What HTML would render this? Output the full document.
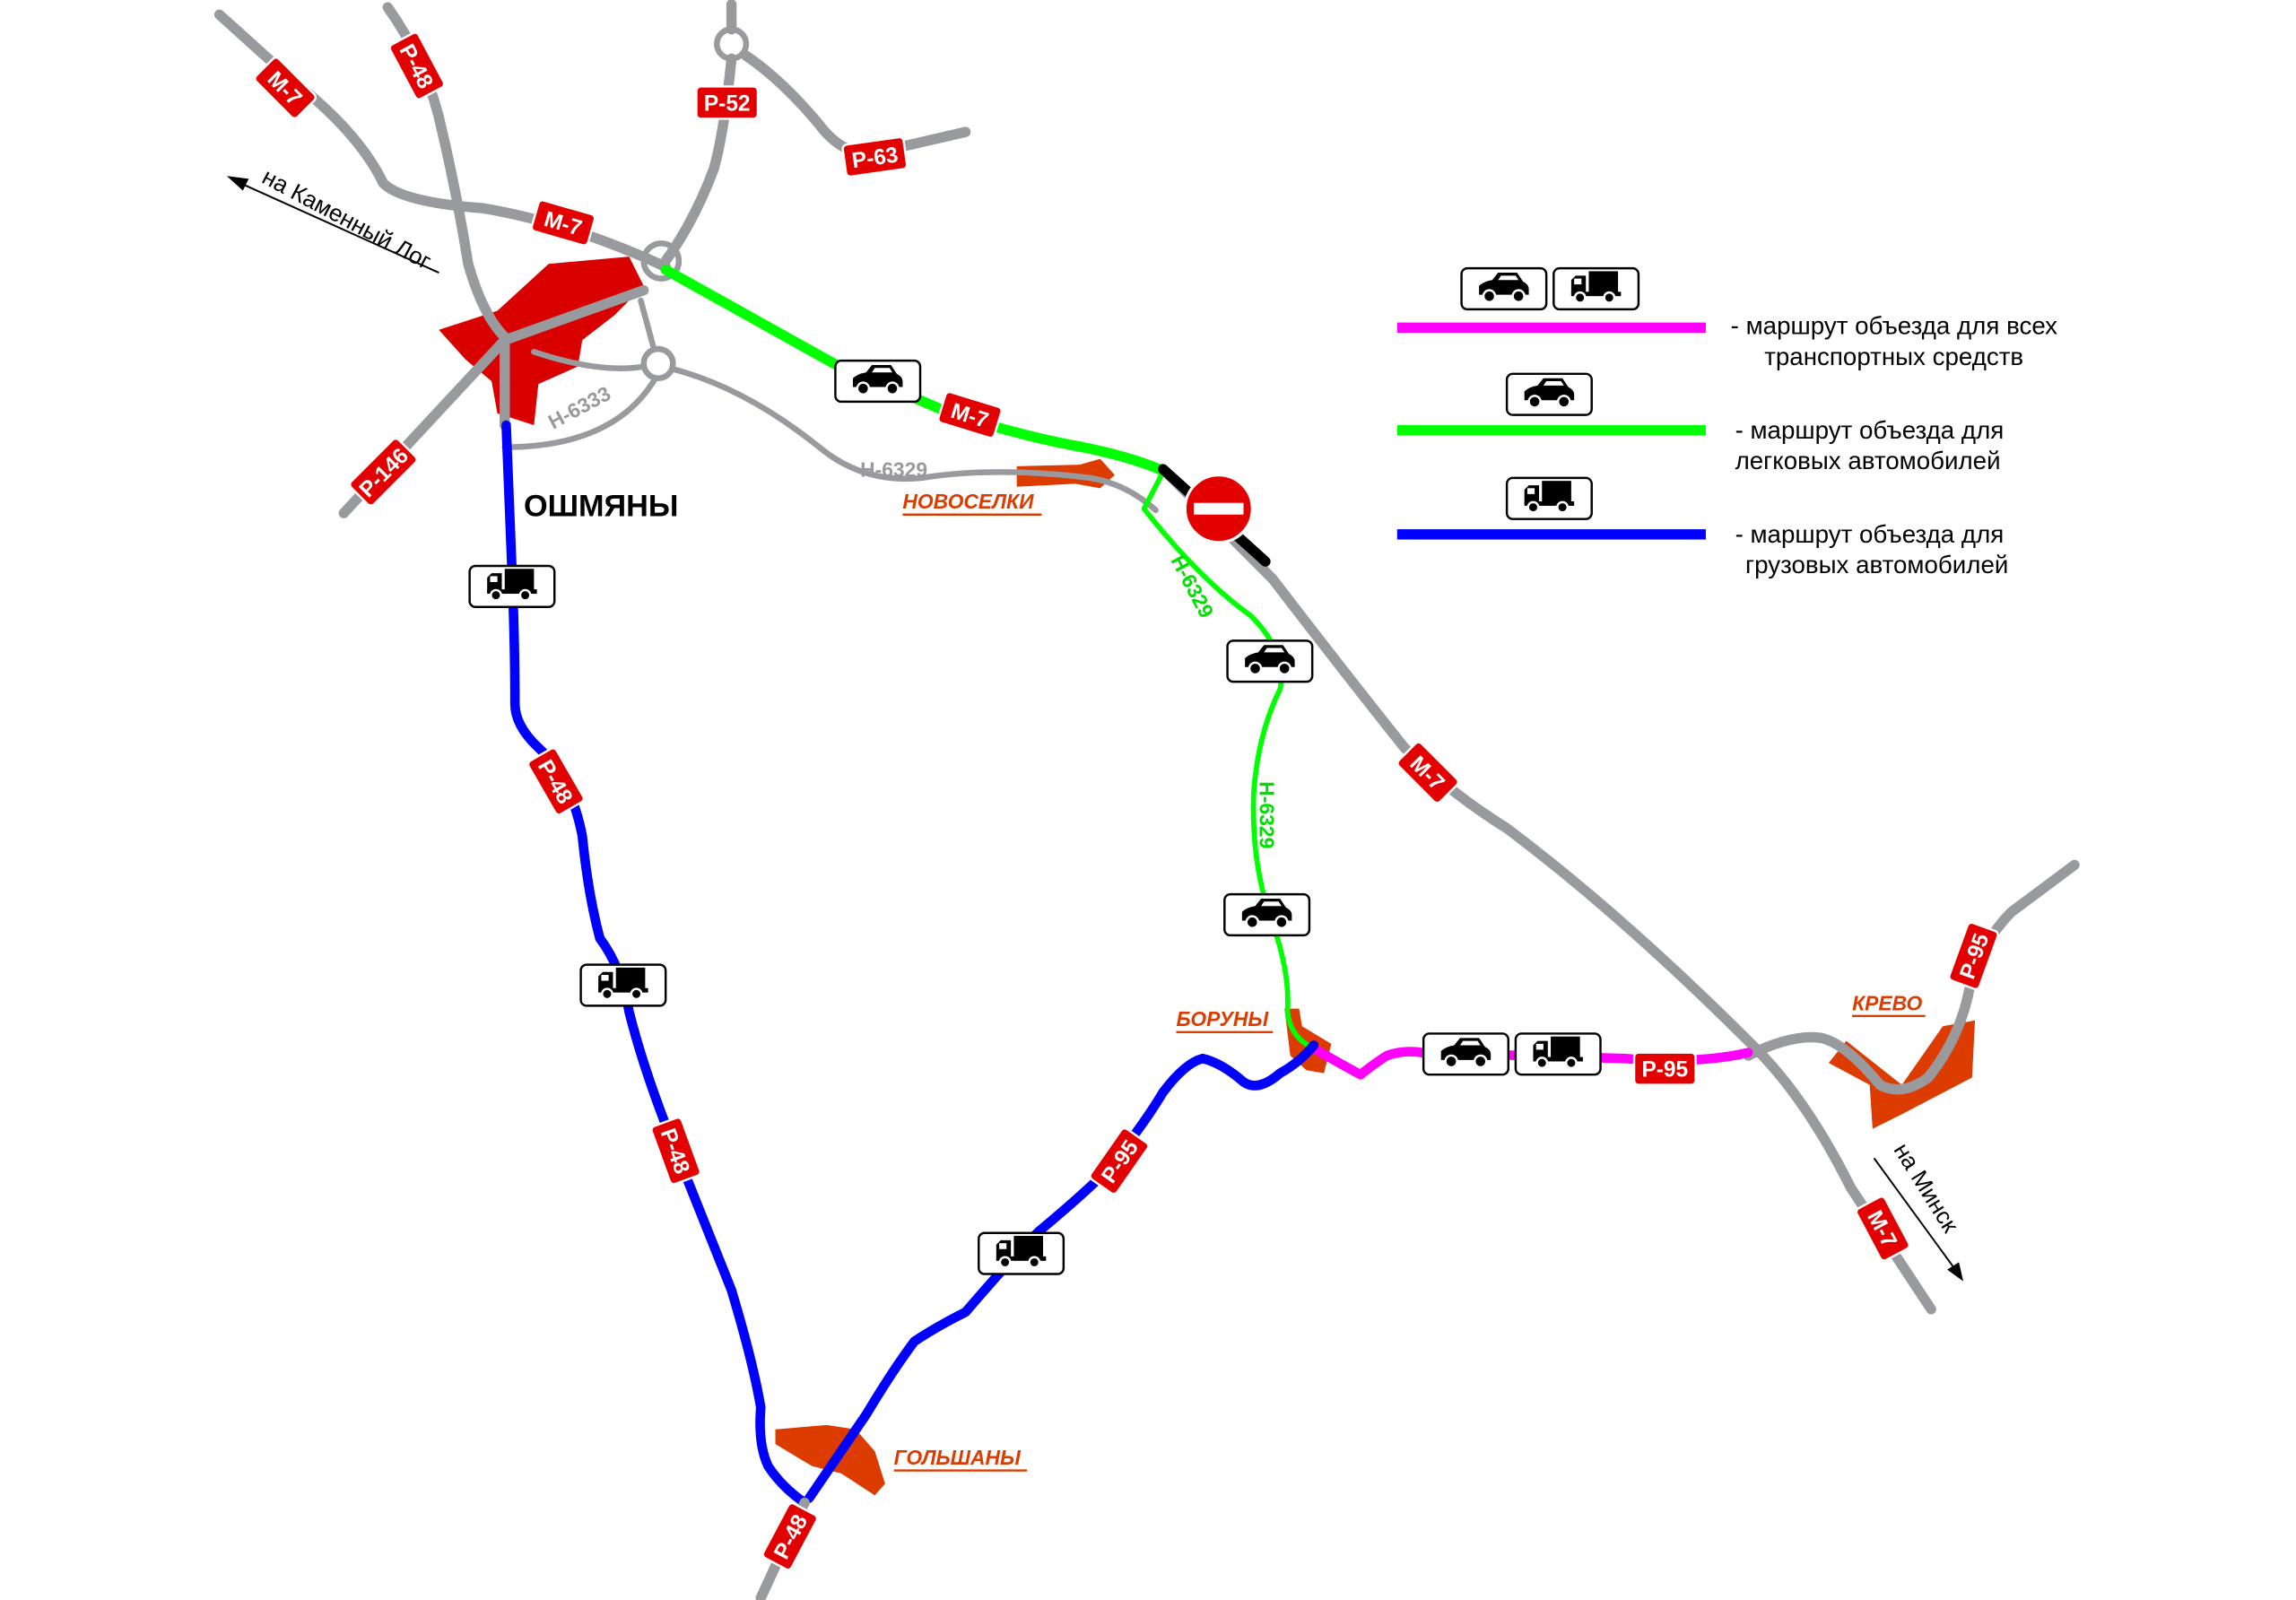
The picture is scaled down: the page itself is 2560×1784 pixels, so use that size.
<!DOCTYPE html>
<html><head><meta charset="utf-8"><style>
html,body{margin:0;padding:0;background:#fff;}
svg{display:block;}
text{font-family:"Liberation Sans",sans-serif;}
</style></head><body>
<svg width="2560" height="1784" viewBox="0 0 1560 1087" preserveAspectRatio="none" xmlns="http://www.w3.org/2000/svg">
<defs>
<g id="car"><path d="M-17,4 L-17,-2 Q-14,-5 -8,-6 L-4,-11 L9,-11 L13,-5 Q17,-3 17,0 L17,4 Z" fill="#000"/><circle cx="-10" cy="5" r="4" fill="#000" stroke="#fff" stroke-width="1.5"/><circle cx="10" cy="5" r="4" fill="#000" stroke="#fff" stroke-width="1.5"/><path d="M-2,-9 L8,-9 L10,-6 L-4,-6Z" fill="#fff"/></g>
<g id="truck"><rect x="-5" y="-12" width="20" height="15" fill="#000"/><path d="M-17,4 L-17,-6 L-14,-9 L-7,-9 L-7,4Z" fill="#000"/><rect x="-15" y="-7" width="5" height="4" fill="#fff"/><rect x="-17" y="2" width="34" height="3" fill="#000"/><circle cx="-11" cy="6" r="3.5" fill="#000" stroke="#fff" stroke-width="1.5"/><circle cx="9" cy="6" r="3.5" fill="#000" stroke="#fff" stroke-width="1.5"/></g>
<g id="pcar"><rect x="-29" y="-14" width="58" height="28" rx="4" fill="#fff" stroke="#000" stroke-width="1.5"/><use href="#car"/></g>
<g id="ptruck"><rect x="-29" y="-14" width="58" height="28" rx="4" fill="#fff" stroke="#000" stroke-width="1.5"/><use href="#truck"/></g>
</defs>
<g transform="scale(0.994,0.996)">
<!-- settlements -->
<polygon points="300,225 340,212 375,180 430,175 440,195 420,215 398,232 395,250 368,262 365,290 340,282 336,260 318,245" fill="#d90000"/>
<polygon points="695,318 738,317 752,313 762,324 752,333 735,330 695,332" fill="#dc3c00"/>
<polygon points="878,688 888,688 890,700 910,712 905,732 893,730 882,720" fill="#dc3c00"/>
<polygon points="530,975 565,972 585,975 598,990 605,1012 598,1020 575,1005 555,1000 530,985" fill="#dc3c00"/>
<polygon points="1262,710 1300,740 1328,700 1350,696 1348,735 1300,760 1280,770 1278,740 1250,725" fill="#dc3c00"/>

<g fill="none" stroke-linecap="round" stroke-linejoin="round">
<g stroke="#999a9e" stroke-width="7">
<path d="M150,10 L200,55 Q245,90 262,125 Q275,138 330,142 Q390,152 455,182"/>
<path d="M265,5 Q290,40 300,80 Q312,130 320,180 Q330,215 345,230"/>
<path d="M500,40 Q495,90 488,115 Q475,150 455,178"/>
<path d="M510,38 Q535,55 560,85 Q575,105 595,105 L660,90"/>
<path d="M500,20 L500,3"/>
<path d="M345,232 L345,290"/>
<path d="M345,232 L235,350"/>
<path d="M345,232 L440,198"/>
<path d="M795,320 L870,395 Q920,460 960,510 Q990,540 1030,565 Q1110,625 1200,715 Q1235,750 1265,810 L1320,893"/>
<path d="M1195,720 Q1225,705 1245,708 Q1262,712 1285,740 Q1300,748 1318,735 Q1338,710 1345,680 Q1352,645 1375,622 L1418,590"/>
</g>
<g stroke="#999a9e" stroke-width="4">
<path d="M365,240 Q410,255 440,250"/>
<path d="M438,205 L447,238"/>
<path d="M461,252 Q510,265 560,305 Q590,330 630,326 Q680,318 745,326 Q770,330 790,348"/>
<path d="M448,258 Q420,305 345,305"/>
<circle cx="452" cy="178" r="12"/>
<circle cx="450" cy="248" r="10"/>
<circle cx="500" cy="30" r="10"/>
</g>
<path d="M455,184 L570,248 L650,282 Q700,298 740,305 Q775,312 797,322" stroke="#00ff00" stroke-width="7"/>
<path d="M795,322 L782,347 Q820,395 855,420 Q880,445 875,470 Q860,500 857,540 Q855,590 870,630 Q882,665 880,690 Q882,708 898,715" stroke="#00ff00" stroke-width="3.5"/>
<path d="M795,320 L865,383" stroke="#000" stroke-width="7"/>
<path d="M898,715 Q915,725 930,733 Q940,725 948,720 Q960,716 972,718 L1110,722 Q1160,726 1195,718" stroke="#ff00ff" stroke-width="6.5"/>
<path d="M346,290 L350,390 Q352,440 352,480 Q352,495 368,510 Q390,530 398,570 Q402,610 410,640 Q425,660 430,690 Q440,730 460,780 Q480,830 500,880 Q515,930 520,960 Q518,985 525,1000 Q535,1015 550,1025" stroke="#0000ff" stroke-width="6.5"/>
<path d="M553,1022 Q575,990 592,965 Q610,935 625,915 Q640,905 660,895 Q690,860 710,840 Q740,815 755,800 Q780,770 795,745 Q810,725 822,722 Q835,725 850,738 Q860,745 875,732 Q888,725 898,713" stroke="#0000ff" stroke-width="6.5"/>
<path d="M550,1025 L520,1090" stroke="#999a9e" stroke-width="7"/>
</g>

<circle cx="833" cy="347" r="23" fill="#e30000" stroke="#fff" stroke-width="2"/>
<rect x="816" y="343" width="34" height="8" fill="#fff"/>

<use href="#pcar" x="600" y="260"/>
<use href="#ptruck" x="350" y="400"/>
<use href="#ptruck" x="426" y="672"/>
<use href="#pcar" x="868" y="451"/>
<use href="#pcar" x="866" y="624"/>
<use href="#ptruck" x="698" y="855"/>
<use href="#pcar" x="1002" y="719"/>
<use href="#ptruck" x="1065" y="719"/>
<use href="#pcar" x="1028" y="197"/>
<use href="#ptruck" x="1091" y="197"/>
<use href="#pcar" x="1059" y="269"/>
<use href="#ptruck" x="1059" y="340"/>

<g font-weight="bold" font-size="15" fill="#fff" text-anchor="middle">
<g transform="translate(195,60) rotate(45)"><rect x="-20" y="-11" width="40" height="22" rx="3" fill="#e30000" stroke="#fff" stroke-width="1.5"/><text y="5.5">М-7</text></g>
<g transform="translate(285,45) rotate(62)"><rect x="-21" y="-11" width="42" height="22" rx="3" fill="#e30000" stroke="#fff" stroke-width="1.5"/><text y="5.5">Р-48</text></g>
<g transform="translate(497,70)"><rect x="-21" y="-11" width="42" height="22" rx="3" fill="#e30000" stroke="#fff" stroke-width="1.5"/><text y="5.5">Р-52</text></g>
<g transform="translate(598,107) rotate(-8)"><rect x="-21" y="-11" width="42" height="22" rx="3" fill="#e30000" stroke="#fff" stroke-width="1.5"/><text y="5.5">Р-63</text></g>
<g transform="translate(385,152) rotate(16)"><rect x="-20" y="-11" width="40" height="22" rx="3" fill="#e30000" stroke="#fff" stroke-width="1.5"/><text y="5.5">М-7</text></g>
<g transform="translate(663,283) rotate(17)"><rect x="-20" y="-11" width="40" height="22" rx="3" fill="#e30000" stroke="#fff" stroke-width="1.5"/><text y="5.5">М-7</text></g>
<g transform="translate(262,322) rotate(-45)"><rect x="-23" y="-11" width="46" height="22" rx="3" fill="#e30000" stroke="#fff" stroke-width="1.5"/><text y="5.5">Р-146</text></g>
<g transform="translate(380,533) rotate(60)"><rect x="-21" y="-11" width="42" height="22" rx="3" fill="#e30000" stroke="#fff" stroke-width="1.5"/><text y="5.5">Р-48</text></g>
<g transform="translate(462,785) rotate(70)"><rect x="-21" y="-11" width="42" height="22" rx="3" fill="#e30000" stroke="#fff" stroke-width="1.5"/><text y="5.5">Р-48</text></g>
<g transform="translate(765,792) rotate(-55)"><rect x="-21" y="-11" width="42" height="22" rx="3" fill="#e30000" stroke="#fff" stroke-width="1.5"/><text y="5.5">Р-95</text></g>
<g transform="translate(540,1048) rotate(-62)"><rect x="-21" y="-11" width="42" height="22" rx="3" fill="#e30000" stroke="#fff" stroke-width="1.5"/><text y="5.5">Р-48</text></g>
<g transform="translate(976,527) rotate(45)"><rect x="-20" y="-11" width="40" height="22" rx="3" fill="#e30000" stroke="#fff" stroke-width="1.5"/><text y="5.5">М-7</text></g>
<g transform="translate(1138,729)"><rect x="-21" y="-11" width="42" height="22" rx="3" fill="#e30000" stroke="#fff" stroke-width="1.5"/><text y="5.5">Р-95</text></g>
<g transform="translate(1349,652) rotate(-70)"><rect x="-21" y="-11" width="42" height="22" rx="3" fill="#e30000" stroke="#fff" stroke-width="1.5"/><text y="5.5">Р-95</text></g>
<g transform="translate(1287,838) rotate(62)"><rect x="-20" y="-11" width="40" height="22" rx="3" fill="#e30000" stroke="#fff" stroke-width="1.5"/><text y="5.5">М-7</text></g>
</g>

<text x="358" y="352" font-size="21" font-weight="bold" fill="#000">ОШМЯНЫ</text>
<g font-size="14" font-weight="bold" font-style="italic" fill="#dc3c00">
<text x="617" y="347">НОВОСЕЛКИ</text>
<text x="804" y="700">БОРУНЫ</text>
<text x="611" y="999">ГОЛЬШАНЫ</text>
<text x="1266" y="689">КРЕВО</text>
</g>
<line x1="617" y1="351" x2="712" y2="351" stroke="#dc3c00" stroke-width="1.5"/>
<line x1="804" y1="704" x2="870" y2="704" stroke="#dc3c00" stroke-width="1.5"/>
<line x1="611" y1="1003" x2="702" y2="1003" stroke="#dc3c00" stroke-width="1.5"/>
<line x1="1266" y1="693" x2="1316" y2="693" stroke="#dc3c00" stroke-width="1.5"/>
<g font-size="14" font-weight="bold" fill="#999a9e">
<text transform="translate(378,293) rotate(-28)">Н-6333</text>
<text x="588" y="325">Н-6329</text>
</g>
<g font-size="14" font-weight="bold" fill="#00e000">
<text transform="translate(800,382) rotate(62)">Н-6329</text>
<text transform="translate(861,533) rotate(90)">Н-6329</text>
</g>

<g font-size="16" fill="#000">
<text transform="translate(178,124) rotate(28)">на Каменный Лог</text>
<text transform="translate(1294,784) rotate(58)">на Минск</text>
</g>
<line x1="160" y1="123" x2="300" y2="186" stroke="#000" stroke-width="1.2"/>
<polygon points="155,120 170,122 166,130" fill="#000"/>
<line x1="1281" y1="790" x2="1338" y2="868" stroke="#000" stroke-width="1.2"/>
<polygon points="1342,874 1331,866 1339,861" fill="#000"/>

<rect x="955" y="220" width="211" height="7" fill="#ff00ff"/>
<rect x="955" y="290" width="211" height="7" fill="#00ff00"/>
<rect x="955" y="361" width="211" height="7" fill="#0000ff"/>
<g font-size="17" fill="#000">
<text x="1183" y="228">- маршрут объезда для всех</text>
<text x="1206" y="249">транспортных средств</text>
<text x="1186" y="299">- маршрут объезда для</text>
<text x="1186" y="320">легковых автомобилей</text>
<text x="1186" y="370">- маршрут объезда для</text>
<text x="1193" y="391">грузовых автомобилей</text>
</g>
</g>
</svg>
</body></html>
